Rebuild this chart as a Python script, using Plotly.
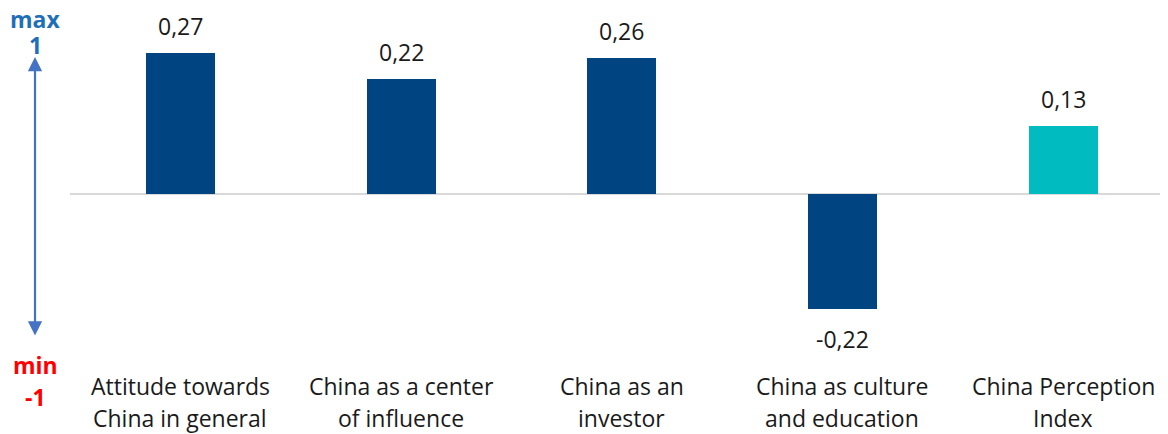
import plotly.graph_objects as go

categories = ["Attitude towards<br>China in general", "China as a center<br>of influence",
              "China as an<br>investor", "China as culture<br>and education",
              "China Perception<br>Index"]
values = [0.27, 0.22, 0.26, -0.22, 0.13]
value_labels = ["0,27", "0,22", "0,26", "-0,22", "0,13"]
bar_colors = ["#004581", "#004581", "#004581", "#004581", "#00BCC0"]

OFF = 8  # page body margin
W, H = 1168 - OFF, 434 - OFF
L = 70 - OFF
FONT = "Open Sans"
FS = 23

x = list(range(len(categories)))
fig = go.Figure()
fig.add_trace(go.Bar(x=x, y=values, marker=dict(color=bar_colors, line=dict(width=0)),
                     width=0.313, hoverinfo="skip"))


def px_x(p):
    return (p - OFF - L) / (W - L)


def px_y(p):
    return 1 - (p - OFF) / H


annotations = []
for i, (v, lab) in enumerate(zip(values, value_labels)):
    annotations.append(dict(x=i, y=v, xref="x", yref="y", text=lab, showarrow=False,
                            yanchor="bottom" if v >= 0 else "top",
                            yshift=9 if v >= 0 else -12,
                            font=dict(family=FONT, size=FS, color="#1a1a1a")))
for i, cat in enumerate(categories):
    lines = cat.split("<br>")
    for j, ln in enumerate(lines):
        annotations.append(dict(x=i, y=px_y(386 + 32 * j), xref="x", yref="paper",
                                text=ln, showarrow=False, yanchor="middle",
                                font=dict(family=FONT, size=FS, color="#1a1a1a")))

blue = "#1F6FB8"
red = "#FF0000"
for txt, yp, col in [("max", 19, blue), ("1", 45, blue), ("min", 365, red), ("-1", 397, red)]:
    annotations.append(dict(x=px_x(35), y=px_y(yp), xref="paper", yref="paper",
                            text="<b>%s</b>" % txt, showarrow=False,
                            xanchor="center", yanchor="middle",
                            font=dict(family=FONT, size=FS, color=col)))
annotations.append(dict(x=px_x(35), y=px_y(57), xref="paper", yref="paper",
                        ax=0, ay=280, axref="pixel", ayref="pixel",
                        showarrow=True, arrowhead=2, startarrowhead=2, arrowside="end+start",
                        arrowsize=1.3, startarrowsize=1.3, arrowwidth=2.2, arrowcolor="#4472C4",
                        text=""))

zero_px = 194 - OFF
ppu = 523.0
y_top = zero_px / ppu
y_bot = -(H - zero_px) / ppu
slot = 220.7
x_max = -0.5 + (W - L) / slot

fig.update_layout(
    width=W, height=H,
    margin=dict(l=L, r=0, t=0, b=0, pad=0),
    plot_bgcolor="white", paper_bgcolor="white",
    showlegend=False,
    bargap=0,
    xaxis=dict(range=[-0.5, x_max], showticklabels=False, showgrid=False, zeroline=False,
               showline=False, ticks=""),
    yaxis=dict(range=[y_bot, y_top], showticklabels=False, showgrid=False, zeroline=True,
               zerolinecolor="#D9D9D9", zerolinewidth=1.5, showline=False, ticks=""),
    annotations=annotations,
    font=dict(family=FONT),
)
fig.write_html("out.html")
